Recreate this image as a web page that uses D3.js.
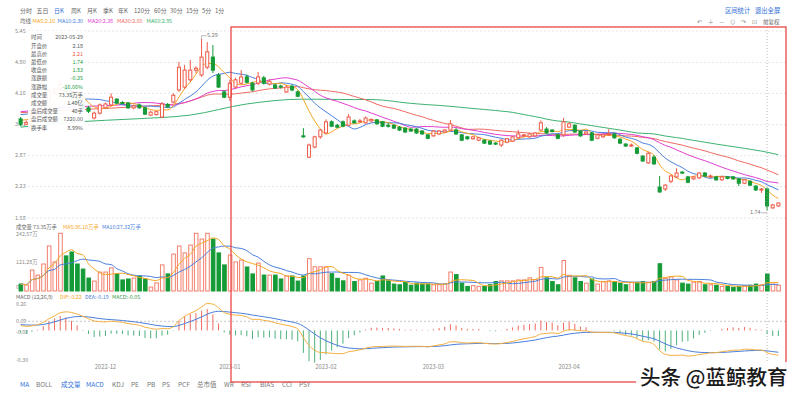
<!DOCTYPE html>
<html><head><meta charset="utf-8">
<script src="https://cdn.jsdelivr.net/npm/d3@7"></script>
<style>body{margin:0;background:#fff}svg{display:block}text{font-family:"Noto Sans CJK SC","Noto Sans",sans-serif}</style>
</head><body><svg id="c" width="800" height="394"></svg>
<script>
// ---- data ----
const opens=[3.63,3.52,3.56,3.69,3.80,3.98,4.18,4.25,4.33,4.20,4.06,3.95,3.86,3.65,3.75,3.86,3.92,4.04,3.97,3.96,
3.86,3.92,3.86,3.71,3.72,3.67,3.93,3.98,4.23,4.29,4.44,4.64,4.54,4.70,4.91,4.54,4.19,4.08,4.29,4.37,
4.50,4.37,4.37,4.48,4.35,4.33,4.31,4.19,4.31,4.19,3.28,2.84,3.05,3.26,3.34,3.57,3.50,3.57,3.50,3.59,
3.58,3.55,3.59,3.61,3.57,3.50,3.50,3.46,3.44,3.42,3.42,3.38,3.30,3.28,3.32,3.36,3.40,3.40,3.30,3.26,
3.22,3.19,3.19,3.17,3.13,3.09,3.15,3.17,3.24,3.28,3.26,3.28,3.40,3.42,3.40,3.30,3.30,3.46,3.50,3.38,
3.32,3.34,3.23,3.26,3.30,3.32,3.21,3.11,3.07,3.03,2.86,2.72,2.84,2.22,2.18,2.34,2.43,2.53,2.43,2.39,
2.41,2.51,2.43,2.43,2.37,2.43,2.43,2.39,2.30,2.34,2.24,2.16,2.18,1.79,1.83];
const highs=[3.67,3.60,3.74,3.84,4.02,4.26,4.30,4.45,4.38,4.24,4.10,3.99,3.90,3.78,3.95,3.97,4.16,4.06,4.00,3.98,
3.93,3.95,3.88,3.80,3.80,3.98,3.96,4.16,4.81,4.75,4.85,4.72,5.29,5.22,5.16,4.58,4.22,4.44,4.48,4.64,
4.55,4.40,4.60,4.52,4.45,4.36,4.34,4.33,4.33,4.22,3.44,3.12,3.28,3.42,3.62,3.60,3.53,3.60,3.73,3.62,
3.63,3.68,3.64,3.63,3.59,3.55,3.52,3.48,3.46,3.44,3.44,3.40,3.32,3.40,3.40,3.42,3.61,3.44,3.32,3.28,
3.28,3.26,3.21,3.19,3.15,3.21,3.24,3.28,3.40,3.32,3.34,3.36,3.60,3.46,3.42,3.32,3.65,3.56,3.52,3.40,
3.38,3.36,3.32,3.32,3.42,3.34,3.23,3.13,3.12,3.05,2.88,2.95,2.88,2.45,2.28,2.48,2.61,2.55,2.45,2.45,
2.53,2.53,2.48,2.45,2.45,2.45,2.45,2.41,2.39,2.36,2.26,2.20,2.21,1.87,1.90];
const lows=[3.48,3.50,3.54,3.66,3.78,3.96,4.12,4.20,4.15,4.02,3.92,3.82,3.75,3.62,3.72,3.84,3.90,3.94,3.93,3.84,
3.83,3.84,3.71,3.69,3.70,3.65,3.86,3.96,4.19,4.25,4.40,4.58,4.50,4.66,4.58,4.27,4.06,4.00,4.26,4.34,
4.36,4.20,4.33,4.34,4.32,4.25,4.26,4.17,4.20,4.08,3.24,2.82,3.02,3.22,3.32,3.46,3.44,3.46,3.48,3.53,
3.55,3.53,3.56,3.51,3.46,3.45,3.42,3.38,3.34,3.36,3.32,3.30,3.21,3.26,3.30,3.34,3.38,3.30,3.17,3.20,
3.20,3.17,3.11,3.09,3.09,3.05,3.13,3.15,3.22,3.26,3.24,3.26,3.38,3.32,3.35,3.21,3.26,3.44,3.34,3.26,
3.30,3.17,3.21,3.24,3.28,3.22,3.11,3.05,3.05,2.90,2.74,2.70,2.68,2.10,2.14,2.30,2.41,2.49,2.30,2.37,
2.39,2.43,2.41,2.35,2.35,2.38,2.37,2.24,2.28,2.24,2.14,2.10,1.74,1.77,1.81];
const closes=[3.52,3.56,3.70,3.80,3.98,4.20,4.25,4.35,4.20,4.06,3.95,3.85,3.79,3.75,3.92,3.94,4.08,3.96,3.95,3.86,
3.90,3.86,3.73,3.77,3.78,3.94,3.88,4.12,4.70,4.64,4.64,4.68,4.91,5.02,4.64,4.29,4.08,4.37,4.44,4.50,
4.39,4.23,4.50,4.37,4.41,4.27,4.29,4.29,4.23,4.10,3.26,3.09,3.26,3.40,3.57,3.48,3.46,3.48,3.67,3.55,
3.59,3.65,3.62,3.53,3.48,3.49,3.44,3.40,3.36,3.38,3.34,3.32,3.23,3.38,3.38,3.40,3.53,3.32,3.19,3.22,
3.26,3.24,3.13,3.11,3.12,3.19,3.22,3.26,3.32,3.30,3.32,3.34,3.55,3.34,3.37,3.23,3.57,3.53,3.36,3.28,
3.36,3.19,3.30,3.30,3.32,3.24,3.13,3.07,3.09,2.92,2.76,2.92,2.70,2.12,2.26,2.45,2.51,2.51,2.32,2.43,
2.51,2.45,2.45,2.37,2.43,2.40,2.39,2.30,2.37,2.26,2.16,2.18,1.83,1.85,1.89];
const volumes=[30,26,91,69,117,195,126,250,152,169,117,95,56,43,82,82,100,74,48,52,
56,65,52,17,35,113,74,160,195,165,199,250,225,250,225,165,113,156,126,134,
104,74,121,69,69,69,52,65,65,43,65,140,105,105,105,75,55,44,68,41,
48,55,34,41,65,44,30,27,38,25,34,30,30,27,27,30,82,71,34,20,
23,20,20,27,41,44,44,44,48,48,57,50,102,57,41,27,132,68,57,41,
34,52,30,41,44,41,34,27,38,38,41,38,41,118,55,61,48,34,30,38,
41,27,27,25,20,20,16,20,23,25,30,27,73.35,30,25];
// MA lead-in values (before each window is complete)
const ma5Lead=[[0,3.60]];
const ma10Lead=[[0,3.72],[5,3.80]];
const ma20Lead=[[0,3.78],[10,3.88]];
const ma30Lead=[[0,3.76],[10,3.82],[20,3.88]];
const ma60Lead=[[0,3.46],[10,3.57],[20,3.63],[30,3.71],[40,3.94],[50,4.04]];
const macdSeed=[3.62,3.56,0.06]; // ema12, ema26, dea before first bar
const priceTicks=[5.45,4.80,4.16,3.51,2.87,2.23,1.58];
const volTicks=[242.57,121.28,0];
const macdTicks=[0.26,0.09,-0.02,-0.30];
const monthLabels=["2022-12","2023-01","2023-02","2023-03","2023-04"];
const monthIdx=[15,37,54,73,97];
const periodTabs=["分时","五日","日K","周K","月K","季K","年K","120分","60分","30分","15分","5分","1分"];
const indTabs=["MA","BOLL","成交量","MACD","KDJ","PE","PB","PS","PCF","总市值","WR","RSI","BIAS","CCI","PSY"];
const infoLabels=["时间","开盘价","最高价","最低价","收盘价","涨跌额","涨跌幅","成交量","成交额","盘后成交量","盘后成交额","换手率"];
const infoValues=["2023-05-29","2.18","2.21","1.74","1.83","-0.35","-16.06%","73.35万手","1.40亿","40手","7320.00","8.99%"];
const infoTone=[0,0,1,-1,-1,-1,-1,0,0,0,0,0];
const hoverIdx=132;

// ---- setup ----
const N=closes.length;
const svg=d3.select("#c");
const RED="#ee5a48",GREEN="#149a36",VRED="#f27f6c";
const C5="#f5a623",C10="#4a7fdc",C20="#df3fcf",C30="#f06a63",C60="#3cb371";
const x=d3.scaleBand().domain(d3.range(N)).range([17,782]).padding(0.28);
const cx=i=>x(i)+x.bandwidth()/2;
const yP=d3.scaleLinear().domain([1.58,5.45]).range([218,31]);
const yV=d3.scaleLinear().domain([0,242.57]).range([291,235]);
const yM=d3.scaleLinear().domain([-0.30,0.26]).range([361,304]);
const T=(s,x0,y0,txt,col,opt={})=>{const t=s.append("text").attr("x",x0).attr("y",y0).text(txt).attr("fill",col).attr("font-size",opt.fs||5.5).attr("dominant-baseline","middle");if(opt.anchor)t.attr("text-anchor",opt.anchor);if(opt.fw)t.attr("font-weight",opt.fw);return t;};

// ---- top toolbar ----
const tabX=[20,36.5,54,71,87,103,118,134,154,170,186,202,215];
periodTabs.forEach((t,i)=>T(svg,tabX[i],11,t,t==="日K"?"#2f6fd6":"#666",{fs:6}));
T(svg,20,21.5,"均线","#666",{fs:5.4});
[["MA5:2.16",C5,32.5],["MA10:2.30",C10,57.5],["MA20:2.38",C20,87.5],["MA30:2.60",C30,117],["MA60:2.95",C60,146.5]].forEach(d=>T(svg,d[2],21.5,d[0],d[1],{fs:5.4}));
T(svg,725,11,"区间统计","#2f6fd6",{fs:6.3});T(svg,755,11,"退出全屏","#2f6fd6",{fs:6.3});
["↶","＋","－","⊙","↷","⊡"].forEach((g,i)=>T(svg,697+i*11,22,g,"#888",{fs:5.5}));
T(svg,763,22,"前复权","#666",{fs:5.5});

// ---- grid & axes (main) ----
const gGrid=svg.append("g");
priceTicks.forEach(v=>{
  gGrid.append("line").attr("x1",28).attr("x2",786).attr("y1",yP(v)).attr("y2",yP(v)).attr("stroke","#e6e6e6").attr("stroke-dasharray","2,2");
  T(svg,15,yP(v),v.toFixed(2),"#888",{fs:5.5});
});

// ---- MA lines ----
function maPts(n,lead){
  const pts=lead.filter(d=>d[0]<n-1).map(d=>[d[0],d[1]]);
  for(let i=n-1;i<N;i++)pts.push([i,d3.mean(closes.slice(i-n+1,i+1))]);
  return pts;
}
const lineP=d3.line().x(d=>cx(d[0])).y(d=>yP(d[1])).curve(d3.curveMonotoneX);
[[60,ma60Lead,C60],[30,ma30Lead,C30],[20,ma20Lead,C20],[10,ma10Lead,C10],[5,ma5Lead,C5]].forEach(([n,l,c])=>{
  svg.append("path").attr("d",lineP(maPts(n,l))).attr("fill","none").attr("stroke",c).attr("stroke-width",1);
});

// ---- candles ----
const gC=svg.append("g");
d3.range(N).forEach(i=>{
  const o=opens[i],c=closes[i],up=c>=o,col=up?RED:GREEN;
  gC.append("line").attr("x1",cx(i)).attr("x2",cx(i)).attr("y1",yP(highs[i])).attr("y2",yP(lows[i])).attr("stroke",col).attr("stroke-width",1);
  const yt=yP(Math.max(o,c)),h=Math.max(1,Math.abs(yP(o)-yP(c)));
  gC.append("rect").attr("x",x(i)+0.5).attr("y",yt).attr("width",x.bandwidth()-1).attr("height",h)
    .attr("fill",up?"#fff":col).attr("stroke",col).attr("stroke-width",1);
});
// extreme annotations
const iMax=d3.maxIndex(highs),iMin=d3.minIndex(lows);
svg.append("line").attr("x1",cx(iMax)).attr("x2",cx(iMax)+5).attr("y1",yP(highs[iMax])-3).attr("y2",yP(highs[iMax])-3).attr("stroke","#999").attr("stroke-width",0.7);
svg.append("line").attr("x1",cx(iMax)).attr("x2",cx(iMax)).attr("y1",yP(highs[iMax])-3).attr("y2",yP(highs[iMax])).attr("stroke","#999").attr("stroke-width",0.7);
T(svg,cx(iMax)+5.5,yP(highs[iMax])-3.5,highs[iMax].toFixed(2),"#777",{fs:5.5});
svg.append("line").attr("x1",cx(iMin)-6).attr("x2",cx(iMin)).attr("y1",yP(lows[iMin])+2.5).attr("y2",yP(lows[iMin])+2.5).attr("stroke","#999").attr("stroke-width",0.7);
T(svg,cx(iMin)-6.5,yP(lows[iMin])+2.5,lows[iMin].toFixed(2),"#777",{fs:5.5,anchor:"end"});

// ---- info box ----
svg.append("rect").attr("x",28).attr("y",31).attr("width",57).attr("height",102).attr("fill","#fff").attr("opacity",0.93);
infoLabels.forEach((l,i)=>{
  const yy=38+i*8.2;
  T(svg,31,yy,l,"#555",{fs:5.4});
  T(svg,83,yy,infoValues[i],infoTone[i]>0?RED:infoTone[i]<0?GREEN:"#555",{fs:5.4,anchor:"end"});
});

// ---- volume panel ----
T(svg,16,228,"成交量 73.35万手","#666",{fs:5.3});
T(svg,63,228,"MA5:36.16万手",C5,{fs:5.3});
T(svg,102,228,"MA10:27.32万手",C10,{fs:5.3});
volTicks.forEach(v=>{
  T(svg,16,v?yV(v):288,v?v.toFixed(2)+"万":"0","#888",{fs:5.3});
});
const gV=svg.append("g");
d3.range(N).forEach(i=>{
  const up=closes[i]>=opens[i];
  gV.append("rect").attr("x",x(i)+0.5).attr("y",yV(volumes[i])).attr("width",x.bandwidth()-0.5).attr("height",yV(0)-yV(volumes[i]))
    .attr("fill",up?"#fff":GREEN).attr("stroke",up?VRED:GREEN).attr("stroke-width",1);
});
const vma=n=>d3.range(N).map(i=>[i,d3.mean(volumes.slice(Math.max(0,i-n+1),i+1))]);
const lineV=d3.line().x(d=>cx(d[0])).y(d=>yV(d[1])).curve(d3.curveMonotoneX);
svg.append("path").attr("d",lineV(vma(10))).attr("fill","none").attr("stroke",C10).attr("stroke-width",1);
svg.append("path").attr("d",lineV(vma(5))).attr("fill","none").attr("stroke",C5).attr("stroke-width",1);

// ---- MACD panel ----
T(svg,16,297.5,"MACD (12,26,9)","#666",{fs:5.3});
T(svg,60,297.5,"DIF:-0.22",C5,{fs:5.3});
T(svg,85,297.5,"DEA:-0.19",C10,{fs:5.3});
T(svg,112,297.5,"MACD:-0.05","#3a9a4a",{fs:5.3});
macdTicks.forEach(v=>T(svg,16,yM(v)+(v===0.26?1:0),v.toFixed(2),"#888",{fs:5.3}));
svg.append("line").attr("x1",28).attr("x2",786).attr("y1",yM(0.09)).attr("y2",yM(0.09)).attr("stroke","#c8c8c8").attr("stroke-dasharray","2,2");
let e12=macdSeed[0],e26=macdSeed[1],dea=macdSeed[2];
const dif=[],deaA=[],hist=[];
closes.forEach(c=>{e12+=(2/13)*(c-e12);e26+=(2/27)*(c-e26);const d=e12-e26;dea+=0.2*(d-dea);dif.push(d);deaA.push(dea);hist.push(2*(d-dea));});
const gH=svg.append("g");
hist.forEach((h,i)=>{
  gH.append("line").attr("x1",cx(i)).attr("x2",cx(i)).attr("y1",yM(0)).attr("y2",yM(h)).attr("stroke",h>=0?"#ef6a5e":"#4caf7a").attr("stroke-width",1);
});
const lineM=d3.line().x((d,i)=>cx(i)).y(d=>yM(d)).curve(d3.curveMonotoneX);
svg.append("path").attr("d",lineM(deaA)).attr("fill","none").attr("stroke",C10).attr("stroke-width",1);
svg.append("path").attr("d",lineM(dif)).attr("fill","none").attr("stroke","#f5b041").attr("stroke-width",1);

// ---- x axis ----
monthLabels.forEach((m,k)=>T(svg,cx(monthIdx[k]),367,m,"#888",{fs:5.8,anchor:"middle"}));

// crosshair
svg.append("line").attr("x1",cx(hoverIdx)).attr("x2",cx(hoverIdx)).attr("y1",27).attr("y2",364).attr("stroke","#999").attr("stroke-width",0.7).attr("stroke-dasharray","1,2");

// ---- bottom indicator tabs ----
const indX=[20,36,61,86,112,131,147,162,178,197,224,241,260,282,299];
indTabs.forEach((t,i)=>T(svg,indX[i],385,t,(t==="MA"||t==="成交量"||t==="MACD")?"#2f6fd6":"#777",{fs:6.5}));

// ---- highlight rectangle ----
svg.append("rect").attr("x",231).attr("y",27).attr("width",555).attr("height",355).attr("fill","none").attr("stroke","#e83a3a").attr("stroke-width",1.2);

// ---- watermark ----
svg.append("rect").attr("x",636).attr("y",362).attr("width",164).attr("height",32).attr("fill","#fff").attr("opacity",0.92);
svg.append("text").attr("x",640).attr("y",379).text("头条 @蓝鲸教育").attr("fill","#1a1a1a").attr("font-size",20.5).attr("font-weight",500).attr("dominant-baseline","middle");
</script></body></html>
